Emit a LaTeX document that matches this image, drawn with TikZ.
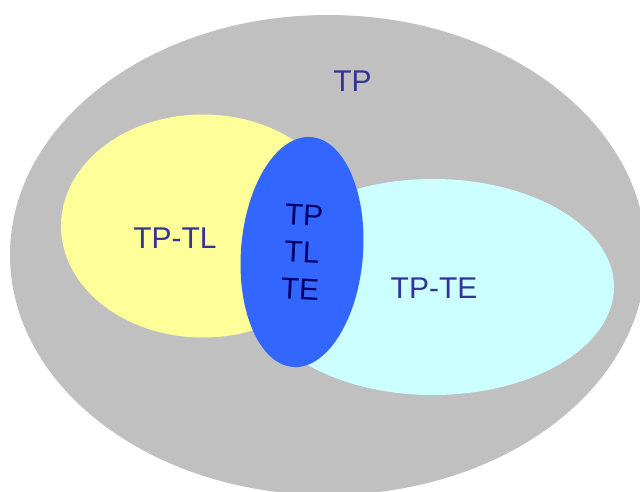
\documentclass[tikz,border=0pt]{standalone}
\usepackage{fontspec}
\setmainfont{Liberation Sans}
\definecolor{setgrey}{HTML}{C0C0C0}
\definecolor{setyellow}{HTML}{FFFF99}
\definecolor{setcyan}{HTML}{CCFFFF}
\definecolor{setblue}{HTML}{3366FF}
\definecolor{labelnavy}{HTML}{333399}
\definecolor{corenavy}{HTML}{000066}
\begin{document}
\begin{tikzpicture}[x=1pt,y=1pt,
  setlabel/.style={inner sep=0pt, text=labelnavy, font=\fontsize{30}{37}\selectfont},
  corelabel/.style={inner sep=0pt, text=corenavy, align=center, font=\fontsize{30}{37}\selectfont}]
  \useasboundingbox (0,0) rectangle (640,491);
  \clip (0,0) rectangle (640,491);
  % universe TP
  \fill[setgrey] (328,236) ellipse [x radius=318, y radius=240];
  % TP minus TL
  \fill[setyellow] (203,265) ellipse [x radius=142, y radius=111.5];
  % TP minus TE
  \fill[setcyan] (433,204) ellipse [x radius=181, y radius=108];
  % common core
  \fill[setblue, rotate around={-4.5:(302,239)}] (302,239) ellipse [x radius=61, y radius=115.3];
  % labels
  \node[setlabel] (tp) at (352.5,410) {TP};
  \node[setlabel] (tptl) at (175,253) {TP-TL};
  \node[setlabel] (tpte) at (434,203) {TP-TE};
  \node[corelabel, rotate=-3] (core) at (302,239) {TP\\TL\\TE};
\end{tikzpicture}
\end{document}
